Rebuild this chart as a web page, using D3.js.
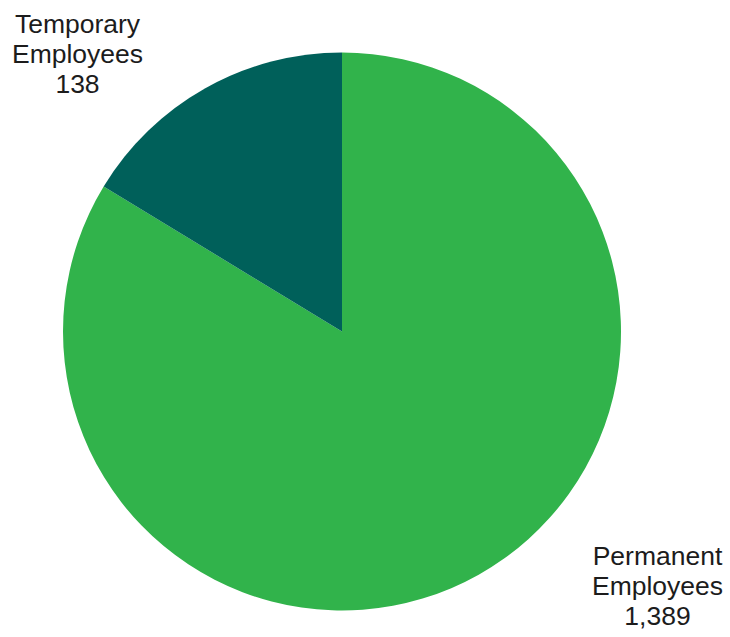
<!DOCTYPE html>
<html>
<head>
<meta charset="utf-8">
<script src="https://cdn.jsdelivr.net/npm/d3@7/dist/d3.min.js"></script>
<style>
  html, body { margin: 0; padding: 0; background: #ffffff; }
  svg { display: block; }
</style>
</head>
<body>
<svg id="chart"></svg>
<script>
// categories and values shown in the labels
const categories = ["Permanent Employees", "Temporary Employees"];
const counts = [1389, 138];
// slice shares (%) as drawn in the reference picture
const shares = [83.7, 16.3];
const colors = ["#31b34b", "#00605a"];

const width = 730;
const height = 637;
const cx = 342;
const cy = 331.5;
const radius = 279;

const svg = d3.select("#chart")
  .attr("width", width)
  .attr("height", height);

const pie = d3.pie().sort(null).value(d => d.share);
const arc = d3.arc().innerRadius(0).outerRadius(radius);

const data = categories.map((c, i) => ({ name: c, count: counts[i], share: shares[i], color: colors[i] }));

svg.append("g")
  .attr("transform", `translate(${cx},${cy})`)
  .selectAll("path")
  .data(pie(data))
  .enter()
  .append("path")
  .attr("d", arc)
  .attr("fill", d => d.data.color);

// outside labels
const labelPos = [
  { x: 657.5, y: 565 },
  { x: 77.5, y: 33 }
];

data.forEach((d, i) => {
  const words = d.name.split(" ");
  const lines = [words[0], words[1], d3.format(",")(d.count)];
  const t = svg.append("text")
    .attr("x", labelPos[i].x)
    .attr("y", labelPos[i].y)
    .attr("text-anchor", "middle")
    .attr("font-family", "Liberation Sans, Arial, sans-serif")
    .attr("font-size", 26.5)
    .attr("fill", "#1c1c1c");
  lines.forEach((ln, j) => {
    t.append("tspan")
      .attr("x", labelPos[i].x)
      .attr("dy", j === 0 ? 0 : 30)
      .text(ln);
  });
});
</script>
</body>
</html>
